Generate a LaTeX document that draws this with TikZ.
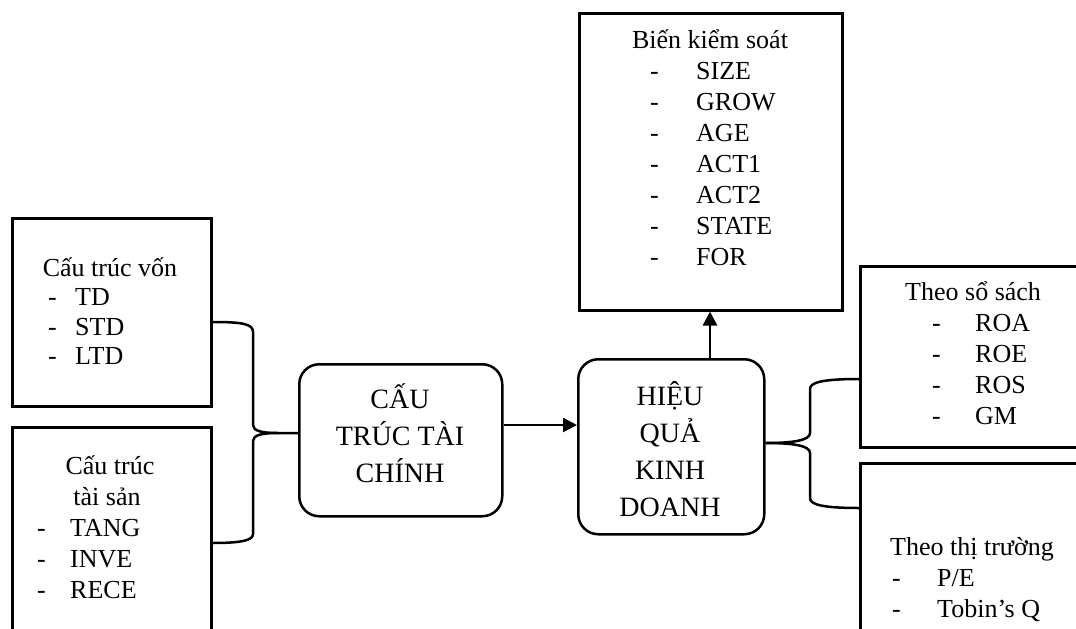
\documentclass[tikz,border=0pt]{standalone}
\usepackage{fontspec}
\setmainfont{Liberation Serif}
\usetikzlibrary{calc,arrows.meta}
\begin{document}
\begin{tikzpicture}[x=1pt,y=-1pt,
  box/.style={draw,line width=2.5pt,anchor=north west,inner sep=0pt},
  rbox/.style={box,rounded corners=20pt},
  ln/.style={anchor=base west,inner sep=0pt,font=\fontsize{26}{30}\selectfont},
  lc/.style={anchor=base,inner sep=0pt,font=\fontsize{26}{30}\selectfont},
  big/.style={anchor=base,inner sep=0pt,font=\fontsize{28}{32}\selectfont},
  conn/.style={line width=2.5pt},
  arr/.style={conn,-{Triangle[length=14pt,width=14pt]}}]
\path[use as bounding box,clip] (0,0) rectangle (1076,629);
% boxes
\node[box,minimum width=199,minimum height=188] (cv) at (11,217) {};
\node[box,minimum width=199,minimum height=260] (cs) at (11,426) {};
\node[box,minimum width=263,minimum height=297] (kb) at (578,12) {};
\node[box,minimum width=260,minimum height=181] (ss) at (859,265) {};
\node[box,minimum width=260,minimum height=240] (tt) at (859,462) {};
\node[rbox,minimum width=203,minimum height=152] (ct) at (298,363) {};
\node[rbox,minimum width=186,minimum height=175] (hq) at (577,358) {};
% texts: Cau truc von
\node[lc] (cv0) at (110,276) {Cấu trúc vốn};
\foreach \t [count=\i] in {TD,STD,LTD} {
  \node[ln] (cvd\i) at (48,276+29.5*\i) {-};
  \node[ln] (cv\i) at (75,276+29.5*\i) {\t};
}
% Cau truc tai san
\node[lc] (cs0) at (110,474) {Cấu trúc};
\node[lc] (cs00) at (107,505) {tài sản};
\foreach \t [count=\i] in {TANG,INVE,RECE} {
  \node[ln] (csd\i) at (37,505+31*\i) {-};
  \node[ln] (cs\i) at (70,505+31*\i) {\t};
}
% Bien kiem soat
\node[lc] (kb0) at (710,48) {Biến kiểm soát};
\foreach \t [count=\i] in {SIZE,GROW,AGE,ACT1,ACT2,STATE,FOR} {
  \node[ln] (kbd\i) at (650,48+31*\i) {-};
  \node[ln] (kb\i) at (696,48+31*\i) {\t};
}
% Theo so sach
\node[ln] (ss0) at (905,300) {Theo sổ sách};
\foreach \t [count=\i] in {ROA,ROE,ROS,GM} {
  \node[ln] (ssd\i) at (932,300+31*\i) {-};
  \node[ln] (ss\i) at (975,300+31*\i) {\t};
}
% Theo thi truong
\node[ln] (tt0) at (890,555) {Theo thị trường};
\foreach \t [count=\i] in {P/E,Tobin’s Q} {
  \node[ln] (ttd\i) at (892,555+31*\i) {-};
  \node[ln] (tt\i) at (937,555+31*\i) {\t};
}
% big boxes text
\node[big] (ct1) at (400,408) {CẤU};
\node[big] (ct2) at (400,445) {TRÚC TÀI};
\node[big] (ct3) at (400,482) {CHÍNH};
\node[big] (hq1) at (670,405) {HIỆU};
\node[big] (hq2) at (670,442) {QUẢ};
\node[big] (hq3) at (670,479) {KINH};
\node[big] (hq4) at (670,516) {DOANH};
% connectors
\coordinate (lb) at (253,433);
\coordinate (rb) at (810,443);
\draw[conn] ($(cv.north east)+(0,105)$) .. controls (243,322) and (253,324) .. (253,332)
  -- (253,425) .. controls (253,431) and (262,433) .. (278,433) -- (ct.west |- lb);
\draw[conn] (278,433) .. controls (262,433) and (253,435) .. (253,441)
  -- (253,534) .. controls (253,540) and (243,543) .. ($(cs.north east)+(0,117)$);
\draw[conn] (hq.east |- rb) .. controls (795,443) and (810,440) .. (810,433)
  -- (810,389) .. controls (810,383) and (820,379) .. ($(ss.north west)+(0,114)$);
\draw[conn] (hq.east |- rb) .. controls (795,443) and (810,446) .. (810,453)
  -- (810,498) .. controls (810,504) and (820,508) .. ($(tt.north west)+(0,46)$);
\draw[arr] ($(ct.north east)+(0,62)$) -- ($(hq.north west)+(0,67)$);
\draw[arr] ($(hq.north west)+(133,0)$) -- ($(kb.south west)+(132,0)$);
\end{tikzpicture}
\end{document}
